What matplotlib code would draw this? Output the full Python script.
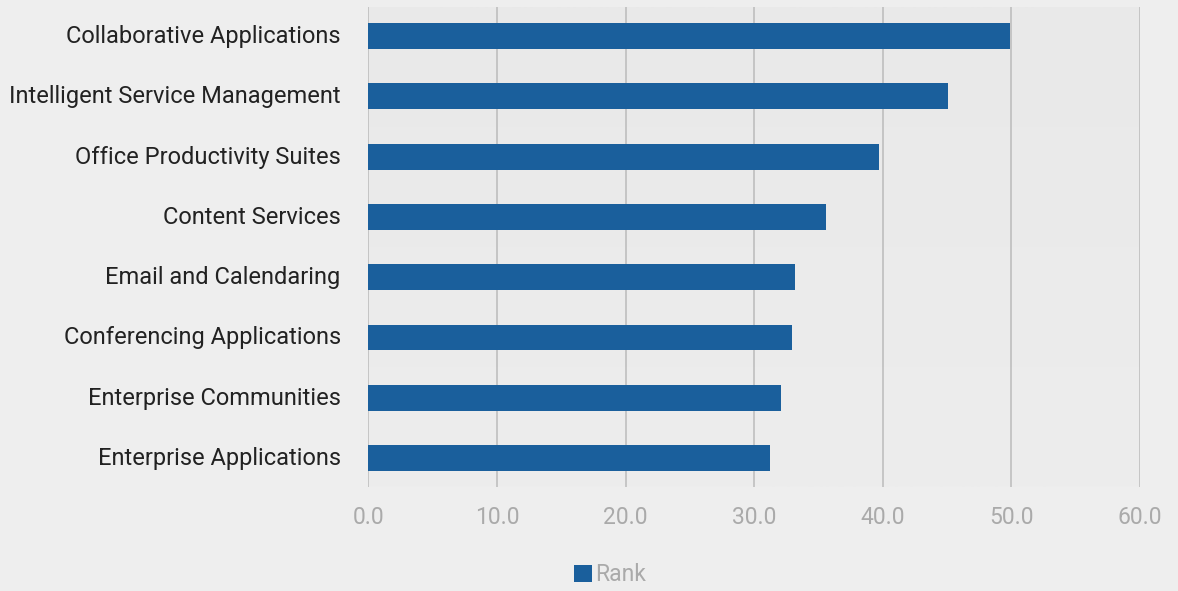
import matplotlib.pyplot as plt
import matplotlib.transforms as mtransforms
import numpy as np

# Rank by category (top to bottom as in the chart)
categories = [
    'Collaborative Applications',
    'Intelligent Service Management',
    'Office Productivity Suites',
    'Content Services',
    'Email and Calendaring',
    'Conferencing Applications',
    'Enterprise Communities',
    'Enterprise Applications',
]
rank = [49.9, 45.1, 39.7, 35.6, 33.2, 32.9, 32.1, 31.2]
x_ticks = [0, 10, 20, 30, 40, 50, 60]

bar_color = '#1a5f9c'

fig = plt.figure(figsize=(11.78, 5.91), dpi=100, facecolor='#eeeeee')
ax = fig.add_axes([0.3128, 0.176, 0.6549, 0.812])

# soft vertical gradient behind the plot area
grad = np.linspace(0, 1, 256).reshape(-1, 1)
ax.imshow(grad, extent=[0, 1, 0, 1], transform=ax.transAxes, aspect='auto',
          cmap=plt.matplotlib.colors.LinearSegmentedColormap.from_list('bg', ['#ededed', '#e9e9e9']),
          origin='lower', zorder=0)

y = np.arange(len(categories))
ax.barh(y, rank, height=0.43, color=bar_color, zorder=3, label='Rank')

ax.set_xlim(0, 60)
ax.set_ylim(len(categories) - 0.52, -0.48)
ax.set_xticks(x_ticks)
ax.set_xticklabels([f'{v:.1f}' for v in x_ticks], color='#aaaaaa', fontsize=16.5, family='Roboto')
ax.set_yticks(y)
ax.set_yticklabels(categories, color='#222222', fontsize=17, family='Roboto')
ax.tick_params(axis='x', length=0, pad=14)
ax.tick_params(axis='y', length=0, pad=20)
# nudge category labels up a little
shift = mtransforms.ScaledTranslation(0, 2 / 100, fig.dpi_scale_trans)
for t in ax.get_yticklabels():
    t.set_transform(t.get_transform() + shift)

ax.grid(axis='x', color='#c2c2c2', linewidth=1.3, zorder=1)
ax.set_axisbelow(True)
for s in ax.spines.values():
    s.set_visible(False)

leg = fig.legend(loc='lower center', bbox_to_anchor=(0.518, -0.027), frameon=False,
                 handlelength=0.75, handleheight=0.75, handletextpad=0.15,
                 prop={'family': 'Roboto', 'size': 16.5})
for t in leg.get_texts():
    t.set_color('#aaaaaa')

fig.savefig('out.png', dpi=100, facecolor=fig.get_facecolor())
